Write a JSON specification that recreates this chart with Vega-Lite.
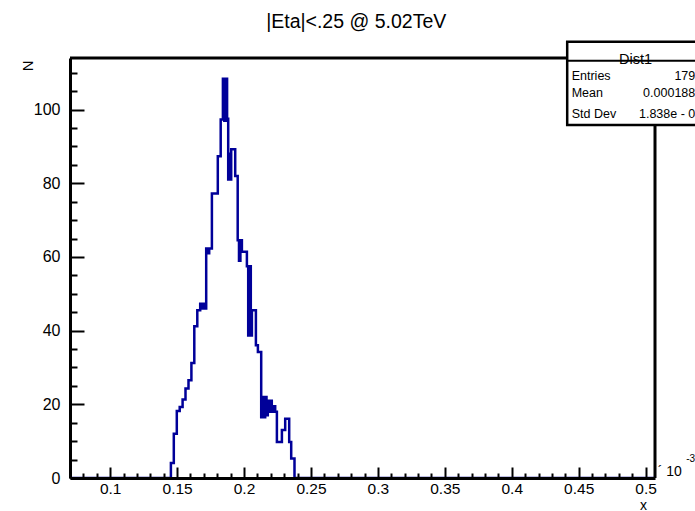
{
  "$schema": "https://vega.github.io/schema/vega-lite/v6.json",
  "width": 585,
  "height": 420,
  "autosize": {"type": "none"},
  "padding": {"left": 70, "top": 58, "right": 40, "bottom": 33},
  "background": "white",
  "config": {"view": {"stroke": null}, "font": "Liberation Sans"},
  "resolve": {"axis": {"x": "independent", "y": "independent"}},
  "datasets": {
    "hist": [
      {"x": 0.07, "N": 0},
      {"x": 0.14537, "N": 4.1},
      {"x": 0.14754, "N": 12},
      {"x": 0.14978, "N": 18.2},
      {"x": 0.15195, "N": 19.3},
      {"x": 0.15411, "N": 21.3},
      {"x": 0.15628, "N": 24.3},
      {"x": 0.15852, "N": 26.5},
      {"x": 0.16069, "N": 31.2},
      {"x": 0.16285, "N": 41.2},
      {"x": 0.16509, "N": 45.5},
      {"x": 0.16726, "N": 47.3},
      {"x": 0.16838, "N": 46},
      {"x": 0.1695, "N": 47.3},
      {"x": 0.17062, "N": 46},
      {"x": 0.17174, "N": 62.3},
      {"x": 0.17286, "N": 61},
      {"x": 0.17398, "N": 62.3},
      {"x": 0.176, "N": 77.2},
      {"x": 0.18041, "N": 87.3},
      {"x": 0.18257, "N": 97.3},
      {"x": 0.18422, "N": 108.4},
      {"x": 0.18526, "N": 97},
      {"x": 0.18631, "N": 108.4},
      {"x": 0.18735, "N": 97.5},
      {"x": 0.18818, "N": 81},
      {"x": 0.18893, "N": 88},
      {"x": 0.18968, "N": 81},
      {"x": 0.19042, "N": 89.2},
      {"x": 0.19341, "N": 82},
      {"x": 0.19527, "N": 64.5},
      {"x": 0.19624, "N": 59},
      {"x": 0.19729, "N": 64.5},
      {"x": 0.19841, "N": 61.4},
      {"x": 0.20214, "N": 57.5},
      {"x": 0.20312, "N": 38.7},
      {"x": 0.20409, "N": 57.5},
      {"x": 0.20506, "N": 38.7},
      {"x": 0.20588, "N": 45.5},
      {"x": 0.20887, "N": 36},
      {"x": 0.21036, "N": 34.2},
      {"x": 0.21283, "N": 16.5},
      {"x": 0.2138, "N": 22},
      {"x": 0.21477, "N": 16.5},
      {"x": 0.21581, "N": 22},
      {"x": 0.21679, "N": 17},
      {"x": 0.21776, "N": 21},
      {"x": 0.2188, "N": 18},
      {"x": 0.21977, "N": 21},
      {"x": 0.22074, "N": 18},
      {"x": 0.22179, "N": 19.5},
      {"x": 0.22328, "N": 18},
      {"x": 0.22455, "N": 9.8},
      {"x": 0.22829, "N": 13},
      {"x": 0.23075, "N": 16.1},
      {"x": 0.23374, "N": 9.8},
      {"x": 0.23524, "N": 5.3},
      {"x": 0.2377, "N": 0},
      {"x": 0.507, "N": 0}
    ],
    "one": [{"k": 1}]
  },
  "layer": [
    {
      "data": {"name": "hist"},
      "mark": {"type": "line", "interpolate": "step-after", "color": "#000099", "strokeWidth": 2.5, "strokeJoin": "miter", "strokeCap": "butt", "clip": true},
      "encoding": {
        "x": {
          "field": "x", "type": "quantitative",
          "scale": {"domain": [0.07, 0.507], "nice": false, "zero": false},
          "axis": {
            "orient": "bottom",
            "values": [0.1, 0.15, 0.2, 0.25, 0.3, 0.35, 0.4, 0.45, 0.5],
            "title": "x", "titleX": 573, "titleY": 31, "titleAlign": "center", "titleBaseline": "alphabetic",
            "titleFontSize": 14, "titleFontWeight": "normal", "titleFont": "Liberation Sans", "titleColor": "black",
            "labelFont": "Liberation Sans", "labelFontSize": 15.5, "labelColor": "black",
            "labelExpr": "format(datum.value, '.2~f')",
            "labelOverlap": false, "labelFlush": false, "labelBound": false, "labelPadding": 14.5,
            "tickSize": -11,
            "tickColor": "black", "tickWidth": 2, "domainColor": "black", "domainWidth": 3, "grid": false, "zindex": 1
          }
        },
        "y": {
          "field": "N", "type": "quantitative",
          "scale": {"domain": [0, 114], "nice": false},
          "axis": {
            "orient": "left",
            "values": [0, 20, 40, 60, 80, 100],
            "title": "N", "titleX": -43, "titleY": 2, "titleAngle": 270, "titleAlign": "right", "titleBaseline": "middle",
            "titleFontSize": 15, "titleFontWeight": "normal", "titleFont": "Liberation Sans", "titleColor": "black",
            "labelFont": "Liberation Sans", "labelFontSize": 16, "labelColor": "black",
            "labelOverlap": false, "labelFlush": false, "labelBound": false, "labelPadding": 24,
            "tickSize": -14,
            "tickColor": "black", "tickWidth": 2, "domainColor": "black", "domainWidth": 3, "grid": false, "zindex": 1
          }
        }
      }
    },
    {
      "data": {"name": "hist"},
      "mark": {"type": "line", "strokeOpacity": 0, "clip": true},
      "encoding": {
        "x": {
          "field": "x", "type": "quantitative",
          "axis": {
            "orient": "bottom",
            "values": [0.07, 0.08, 0.09, 0.11, 0.12, 0.13, 0.14, 0.16, 0.17, 0.18, 0.19, 0.21, 0.22, 0.23, 0.24, 0.26, 0.27, 0.28, 0.29, 0.31, 0.32, 0.33, 0.34, 0.36, 0.37, 0.38, 0.39, 0.41, 0.42, 0.43, 0.44, 0.46, 0.47, 0.48, 0.49],
            "title": null, "labels": false, "domain": false,
            "tickSize": -5, "tickColor": "black", "tickWidth": 2, "grid": false, "zindex": 1
          }
        },
        "y": {
          "field": "N", "type": "quantitative",
          "axis": {
            "orient": "left",
            "values": [5, 10, 15, 25, 30, 35, 45, 50, 55, 65, 70, 75, 85, 90, 95, 105, 110],
            "title": null, "labels": false, "domain": false,
            "tickSize": -7, "tickColor": "black", "tickWidth": 2, "grid": false, "zindex": 1
          }
        }
      }
    },
    {
      "data": {"name": "one"},
      "mark": {"type": "rule", "color": "black", "strokeWidth": 3},
      "encoding": {
        "x": {"datum": 0.07, "type": "quantitative", "axis": null},
        "x2": {"datum": 0.507},
        "y": {"datum": 114, "type": "quantitative", "axis": null}
      }
    },
    {
      "data": {"name": "one"},
      "mark": {"type": "rule", "color": "black", "strokeWidth": 3},
      "encoding": {
        "x": {"datum": 0.507, "type": "quantitative", "axis": null},
        "y": {"datum": 0, "type": "quantitative", "axis": null},
        "y2": {"datum": 114}
      }
    },
    {
      "data": {"name": "one"},
      "mark": {"type": "rect", "fill": "white", "stroke": "black", "strokeWidth": 2.5},
      "encoding": {
        "x": {"datum": 0.44141, "type": "quantitative", "axis": null},
        "x2": {"datum": 0.54782},
        "y": {"datum": 118.44, "type": "quantitative", "axis": null},
        "y2": {"datum": 95.82}
      }
    },
    {
      "data": {"name": "one"},
      "mark": {"type": "text", "text": "Dist1", "align": "center", "baseline": "alphabetic", "fontSize": 14.5, "font": "Liberation Sans", "color": "black"},
      "encoding": {
        "x": {"datum": 0.49244, "type": "quantitative", "axis": null},
        "y": {"datum": 112.46, "type": "quantitative", "axis": null}
      }
    },
    {
      "data": {"name": "one"},
      "mark": {"type": "rule", "color": "black", "strokeWidth": 2},
      "encoding": {
        "x": {"datum": 0.44141, "type": "quantitative", "axis": null},
        "x2": {"datum": 0.54782},
        "y": {"datum": 113.28, "type": "quantitative", "axis": null}
      }
    },
    {
      "data": {"name": "one"},
      "mark": {"type": "text", "text": "Entries", "align": "left", "baseline": "alphabetic", "fontSize": 12.5, "font": "Liberation Sans", "color": "black"},
      "encoding": {"x": {"datum": 0.44477, "type": "quantitative", "axis": null}, "y": {"datum": 107.98, "type": "quantitative", "axis": null}}
    },
    {
      "data": {"name": "one"},
      "mark": {"type": "text", "text": "Mean", "align": "left", "baseline": "alphabetic", "fontSize": 12.5, "font": "Liberation Sans", "color": "black"},
      "encoding": {"x": {"datum": 0.44477, "type": "quantitative", "axis": null}, "y": {"datum": 103.45, "type": "quantitative", "axis": null}}
    },
    {
      "data": {"name": "one"},
      "mark": {"type": "text", "text": "Std Dev", "align": "left", "baseline": "alphabetic", "fontSize": 12.5, "font": "Liberation Sans", "color": "black"},
      "encoding": {"x": {"datum": 0.44477, "type": "quantitative", "axis": null}, "y": {"datum": 97.67, "type": "quantitative", "axis": null}}
    },
    {
      "data": {"name": "one"},
      "mark": {"type": "text", "text": "1797", "align": "right", "baseline": "alphabetic", "fontSize": 12.5, "font": "Liberation Sans", "color": "black"},
      "encoding": {"x": {"datum": 0.54226, "type": "quantitative", "axis": null}, "y": {"datum": 107.98, "type": "quantitative", "axis": null}}
    },
    {
      "data": {"name": "one"},
      "mark": {"type": "text", "text": "0.0001884", "align": "right", "baseline": "alphabetic", "fontSize": 12.5, "font": "Liberation Sans", "color": "black"},
      "encoding": {"x": {"datum": 0.54226, "type": "quantitative", "axis": null}, "y": {"datum": 103.45, "type": "quantitative", "axis": null}}
    },
    {
      "data": {"name": "one"},
      "mark": {"type": "text", "text": "1.838e - 05", "align": "right", "baseline": "alphabetic", "fontSize": 12.5, "font": "Liberation Sans", "color": "black"},
      "encoding": {"x": {"datum": 0.54226, "type": "quantitative", "axis": null}, "y": {"datum": 97.67, "type": "quantitative", "axis": null}}
    },
    {
      "data": {"name": "one"},
      "mark": {"type": "text", "text": "´ 10", "align": "left", "baseline": "alphabetic", "fontSize": 14, "font": "Liberation Sans", "color": "black"},
      "encoding": {"x": {"datum": 0.509, "type": "quantitative", "axis": null}, "y": {"datum": 0.6, "type": "quantitative", "axis": null}}
    },
    {
      "data": {"name": "one"},
      "mark": {"type": "text", "text": "-3", "align": "left", "baseline": "alphabetic", "fontSize": 10, "font": "Liberation Sans", "color": "black"},
      "encoding": {"x": {"datum": 0.5303, "type": "quantitative", "axis": null}, "y": {"datum": 4.26, "type": "quantitative", "axis": null}}
    },
    {
      "data": {"name": "one"},
      "mark": {"type": "text", "text": "|Eta|<.25 @ 5.02TeV", "align": "center", "baseline": "alphabetic", "fontSize": 19.5, "font": "Liberation Sans", "color": "black"},
      "encoding": {"x": {"datum": 0.28379, "type": "quantitative", "axis": null}, "y": {"datum": 122.1, "type": "quantitative", "axis": null}}
    }
  ]
}
